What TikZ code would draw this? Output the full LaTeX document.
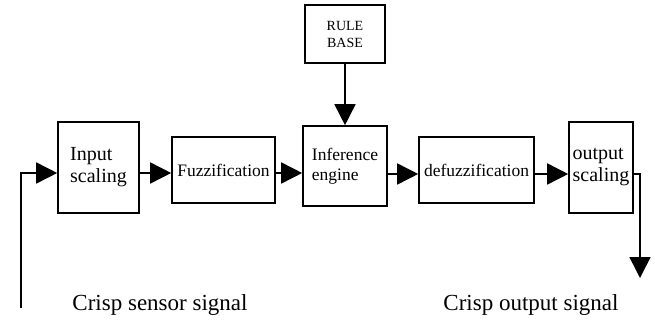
\documentclass[tikz,border=0pt]{standalone}
\usepackage{fontspec}
\setmainfont{Liberation Serif}
\usetikzlibrary{arrows.meta}
\begin{document}
\begin{tikzpicture}[x=1pt,y=-1pt,
  box/.style={draw,line width=1.6pt,inner sep=0pt,align=left},
  arr/.style={line width=1.6pt,-{Triangle[length=21pt,width=21pt]}},
  lbl/.style={font=\fontsize{23}{27}\selectfont,anchor=base}]
\useasboundingbox (0,0) rectangle (655,320);
\node[box,minimum width=81pt,minimum height=91pt,font=\fontsize{20}{22}\selectfont] (in) at (98.5,167.5) {Input\\scaling};
\node[box,minimum width=103pt,minimum height=66pt,font=\fontsize{17.5}{20}\selectfont] (fz) at (223.5,170) {Fuzzification};
\node[box,minimum width=84pt,minimum height=80pt,font=\fontsize{17.5}{20}\selectfont] (inf) at (345,166) {Inference\\engine};
\node[box,minimum width=115pt,minimum height=66pt,font=\fontsize{17.5}{20}\selectfont] (dfz) at (476.5,170) {defuzzification};
\node[box,minimum width=64pt,minimum height=91pt,font=\fontsize{20}{22}\selectfont] (out) at (601,167.5) {output\\scaling};
\node[box,minimum width=80pt,minimum height=58pt,font=\fontsize{14}{17}\selectfont,align=center] (rb) at (345,34) {RULE\\BASE};
\coordinate (src) at (21,308);
\coordinate (snk) at (640,278);
\draw[arr] (src) |- (in.west |- 0,173);
\draw[arr] (in.east |- 0,173) -- (fz.west |- 0,173);
\draw[arr] (fz.east |- 0,173) -- (inf.west |- 0,173);
\draw[arr] (inf.east |- 0,174) -- (dfz.west |- 0,174);
\draw[arr] (dfz.east |- 0,174) -- (out.west |- 0,174);
\draw[arr] (out.east |- 0,174) -| (snk);
\draw[arr] (rb) -- (inf);
\node[lbl] (t1) at (160,310) {Crisp sensor signal};
\node[lbl] (t2) at (531,310) {Crisp output signal};
\end{tikzpicture}
\end{document}
